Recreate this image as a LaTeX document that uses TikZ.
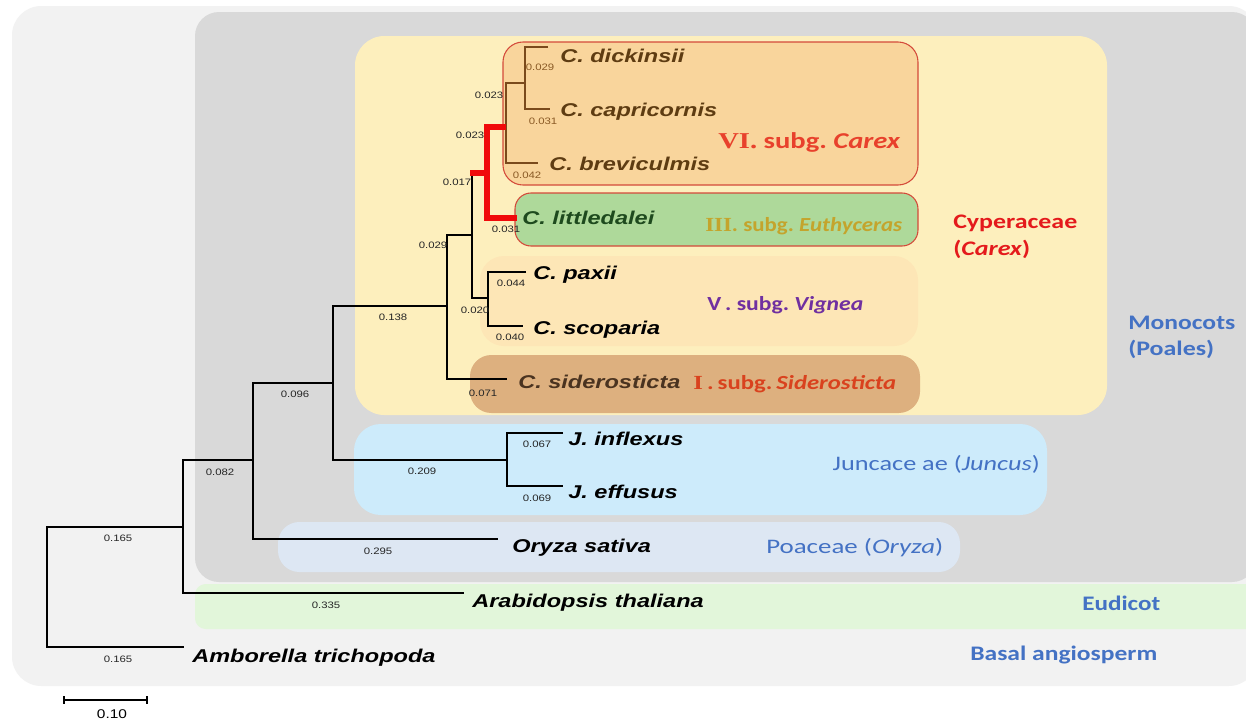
\documentclass[tikz,border=0pt]{standalone}
\usepackage{fontspec}
\usepackage{graphicx}
\setmainfont{Liberation Sans}
\newfontfamily\calib{Carlito}
\newfontfamily\serifrm{Liberation Serif}

% stretch a text box horizontally to a given width (in pixel units)
\newsavebox\fitbox
\newcommand\fitw[2]{\sbox\fitbox{#2}\scalebox{\fpeval{0.75*(#1)/(\the\wd\fitbox)}}[1]{\usebox\fitbox}}
\newcommand\xs[1]{\scalebox{1.27}[1]{#1}}
\newcommand\xb[1]{\scalebox{1.22}[1]{#1}}

\definecolor{bgout}{HTML}{F2F2F2}
\definecolor{bgmono}{HTML}{D9D9D9}
\definecolor{bgeud}{HTML}{E2F6DA}
\definecolor{bgcyp}{HTML}{FDEFBD}
\definecolor{bgcarex}{HTML}{F9D59C}
\definecolor{bgeuth}{HTML}{AED99A}
\definecolor{bgvig}{HTML}{FDE6B6}
\definecolor{bgsid}{HTML}{DDB07F}
\definecolor{bgjun}{HTML}{CDEBFB}
\definecolor{bgpoa}{HTML}{DDE7F3}
\definecolor{boxred}{HTML}{D44A3A}
\definecolor{grpblue}{HTML}{4472C4}
\definecolor{cypred}{HTML}{E41A1C}
\definecolor{redC}{HTML}{F00A0A}
\definecolor{brnC}{HTML}{7A4A1C}
\definecolor{txtbrn}{HTML}{5E3C12}
\definecolor{txtgrn}{HTML}{1E4A1E}
\definecolor{txtsid}{HTML}{4A3320}
\definecolor{lblbrn}{HTML}{8A5A25}
\definecolor{subVI}{HTML}{E8412C}
\definecolor{subIII}{HTML}{C4A42C}
\definecolor{subV}{HTML}{7030A0}
\definecolor{subI}{HTML}{D9421E}

\begin{document}
\begin{tikzpicture}[x=0.75pt,y=-0.75pt,
  br/.style={line width=1.9pt, black},
  brb/.style={line width=1.9pt, brnC},
  brr/.style={line width=4.8pt, redC},
  taxon/.style={anchor=base west, inner sep=0pt, font=\fontsize{13.9}{15}\selectfont\bfseries\itshape},
  blen/.style={inner sep=0pt, font=\fontsize{7}{8}\selectfont, text=black!85},
  grp/.style={inner sep=0pt, font=\calib\fontsize{15.5}{18}\selectfont\bfseries, text=grpblue},
  grpn/.style={inner sep=0pt, font=\calib\fontsize{15.5}{18}\selectfont, text=grpblue},
  subg/.style={anchor=west, inner sep=0pt, font=\calib\fontsize{15}{17}\selectfont\bfseries},
]
\useasboundingbox (0,0) rectangle (1246,722);
\fill[white] (0,0) rectangle (1246,722);

% ---- clade panels ----
\fill[bgout, rounded corners=22pt] (12,6) rectangle (1258,686);
\fill[bgmono, rounded corners=18pt] (195,12) rectangle (1256,582);
\fill[bgeud, rounded corners=8pt] (195,584) rectangle (1258,629);
\fill[bgcyp, rounded corners=22pt] (355,36) rectangle (1107,415);
\fill[bgcarex, draw=boxred, line width=0.8pt, rounded corners=15pt] (503,42) rectangle (918,185);
\fill[bgeuth, draw=boxred, line width=0.8pt, rounded corners=12pt] (515,193) rectangle (918,246);
\fill[bgvig, rounded corners=18pt] (480,256) rectangle (918,346);
\fill[bgsid, rounded corners=16pt] (470,355) rectangle (920,413);
\fill[bgjun, rounded corners=20pt] (354,424) rectangle (1047,515);
\fill[bgpoa, rounded corners=16pt] (278,522) rectangle (960,572);

% ---- internal nodes ----
\coordinate (nR) at (47,588);
\coordinate (nA) at (183,527);
\coordinate (nB) at (253,460);
\coordinate (nC) at (333,383);
\coordinate (nD) at (447,306);
\coordinate (nE) at (472,235);
\coordinate (nF) at (488,298);
\coordinate (nG) at (487,173);
\coordinate (nH) at (506,127);
\coordinate (nI) at (525,83);
\coordinate (nJ) at (507,460);

% ---- branch tips ----
\coordinate (tDic) at (548,47);
\coordinate (tCap) at (550,109);
\coordinate (tBre) at (538,163);
\coordinate (tLit) at (517,218);
\coordinate (tPax) at (526,272);
\coordinate (tSco) at (523,326);
\coordinate (tSid) at (507,379);
\coordinate (tInf) at (563,433);
\coordinate (tEff) at (563,486);
\coordinate (tOry) at (498,539);
\coordinate (tAra) at (464,593);
\coordinate (tAmb) at (184,647);

% ---- branches ----
\draw[br] (nA) -- (nR |- nA) -- (nR |- tAmb) -- (tAmb);
\draw[br] (nB) -- (nA |- nB) -- (nA |- tAra) -- (tAra);
\draw[br] (nC) -- (nB |- nC) -- (nB |- tOry) -- (tOry);
\draw[br] (nD) -- (nC |- nD) -- (nC |- nJ) -- (nJ);
\draw[br] (tInf) -- (nJ |- tInf) -- (nJ |- tEff) -- (tEff);
\draw[br] (nE) -- (nD |- nE) -- (nD |- tSid) -- (tSid);
\draw[br] (nE |- nG) -- (nE |- nF) -- (nF);
\draw[br] (tPax) -- (nF |- tPax) -- (nF |- tSco) -- (tSco);
\draw[brb] (nI) -- (nH |- nI) -- (nH |- tBre) -- (tBre);
\draw[brb] (tDic) -- (nI |- tDic) -- (nI |- tCap) -- (tCap);
\draw[brr] ([xshift=-1.5pt]nE |- nG) -- (nG);
\draw[brr, line join=miter] (nH) -- (nG |- nH) -- (nG |- tLit) -- (tLit);

% ---- taxa ----
\node[taxon, text=txtbrn] (lDic) at (560,62) {\xs{C. dickinsii}};
\node[taxon, text=txtbrn] (lCap) at (560,116) {\xs{C. capricornis}};
\node[taxon, text=txtbrn] (lBre) at (549,170) {\xs{C. breviculmis}};
\node[taxon, text=txtgrn] (lLit) at (522,224) {\xs{C. littledalei}};
\node[taxon] (lPax) at (533,279) {\xs{C. paxii}};
\node[taxon] (lSco) at (533,334) {\xs{C. scoparia}};
\node[taxon, text=txtsid] (lSid) at (518,388) {\xs{C. siderosticta}};
\node[taxon] (lInf) at (568,445) {\xs{J. inflexus}};
\node[taxon] (lEff) at (568,498) {\xs{J. effusus}};
\node[taxon] (lOry) at (512,552) {\xs{Oryza sativa}};
\node[taxon] (lAra) at (472,607) {\xs{Arabidopsis thaliana}};
\node[taxon] (lAmb) at (192,662) {\xs{Amborella trichopoda}};

% ---- branch lengths ----
\node[blen, text=lblbrn] (b1) at (540,67) {\xb{0.029}};
\node[blen, text=lblbrn] (b2) at (543,121) {\xb{0.031}};
\node[blen] (b3) at (489,95) {\xb{0.023}};
\node[blen] (b4) at (470,135) {\xb{0.023}};
\node[blen, text=lblbrn] (b5) at (527,175) {\xb{0.042}};
\node[blen] (b6) at (457,182) {\xb{0.017}};
\node[blen] (b7) at (506,229) {\xb{0.031}};
\node[blen] (b8) at (433,245) {\xb{0.029}};
\node[blen] (b9) at (511,283) {\xb{0.044}};
\node[blen] (b10) at (510,337) {\xb{0.040}};
\node[blen] (b11) at (475,310) {\xb{0.020}};
\node[blen] (b12) at (483,393) {\xb{0.071}};
\node[blen] (b13) at (393,317) {\xb{0.138}};
\node[blen] (b14) at (295,394) {\xb{0.096}};
\node[blen] (b15) at (422,471) {\xb{0.209}};
\node[blen] (b16) at (537,444) {\xb{0.067}};
\node[blen] (b17) at (537,498) {\xb{0.069}};
\node[blen] (b18) at (220,472) {\xb{0.082}};
\node[blen] (b19) at (378,551) {\xb{0.295}};
\node[blen] (b20) at (118,538) {\xb{0.165}};
\node[blen] (b21) at (326,605) {\xb{0.335}};
\node[blen] (b22) at (118,659) {\xb{0.165}};

% ---- subgenera ----
\node[subg, text=subVI, font=\calib\fontsize{17}{19}\selectfont\bfseries] (sVI) at (718,142) {\fitw{182}{{\serifrm\bfseries VI.}\ subg.\ \textit{Carex}}};
\node[subg, text=subIII] (sIII) at (705,226) {\fitw{197}{{\serifrm\bfseries III}. subg.\ \textit{Euthyceras}}};
\node[subg, text=subV] (sV) at (707,305) {\fitw{156}{V\,.\ subg.\ \textit{Vignea}}};
\node[subg, text=subI] (sI) at (693,384) {\fitw{203}{{\serifrm\bfseries I}\,.\,subg.\,\textit{Siderosticta}}};

% ---- families and groups ----
\node[grp, text=cypred, anchor=west] (gCyp) at (953,223) {\fitw{124}{Cyperaceae}};
\node[grp, text=cypred, anchor=west] (gCar) at (953,249) {\fitw{77}{(\textit{Carex})}};
\node[grp, anchor=west] (gMon) at (1128,323) {\fitw{107}{Monocots}};
\node[grp, anchor=west] (gPoa) at (1128,349) {\fitw{86}{(Poales)}};
\node[grpn, anchor=east] (gJun) at (1040,464) {\fitw{207}{Juncace ae (\textit{Juncus})}};
\node[grpn, anchor=west] (gOry) at (766,548) {\fitw{177}{Poaceae (\textit{Oryza})}};
\node[grp, anchor=west] (gEud) at (1082,603) {\fitw{78}{Eudicot}};
\node[grp, anchor=west] (gBas) at (970,655) {\fitw{187}{Basal angiosperm}};

% ---- scale bar ----
\coordinate (sbL) at (64,700);
\coordinate (sbR) at (147,700);
\draw[line width=1.2pt] (sbL) -- (sbR);
\draw[line width=1pt] ([yshift=3pt]sbL) -- ([yshift=-3pt]sbL);
\draw[line width=1pt] ([yshift=3pt]sbR) -- ([yshift=-3pt]sbR);
\node[inner sep=0pt, font=\fontsize{9.5}{11}\selectfont] (sbT) at (112,714) {\xb{0.10}};
\end{tikzpicture}
\end{document}
